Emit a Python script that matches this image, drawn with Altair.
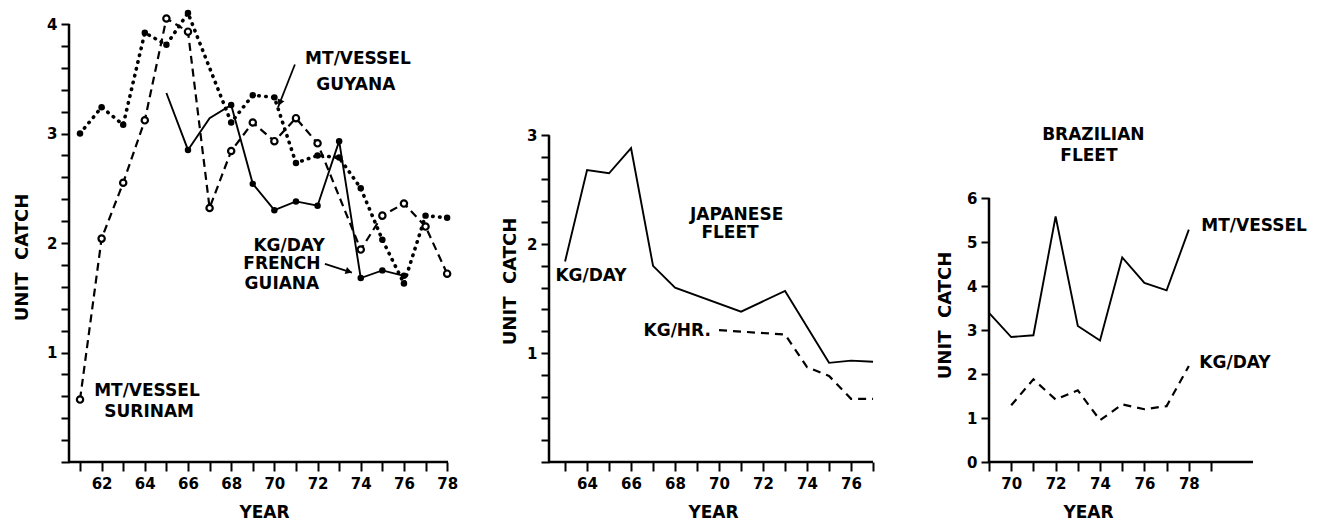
import altair as alt
import pandas as pd

FONT = "DejaVu Sans"

# ---------------- data ----------------
# Left panel: Guianas
guyana_years = [61, 62, 63, 64, 65, 66, 68, 69, 70, 71, 72, 73, 74, 75, 76, 77, 78]
guyana_vals = [3.00, 3.24, 3.08, 3.92, 3.81, 4.10, 3.10, 3.35, 3.33, 2.73, 2.80, 2.78, 2.50, 2.03, 1.63, 2.25, 2.23]

surinam_years = [61, 62, 63, 64, 65, 66, 67, 68, 69, 70, 71, 72, 74, 75, 76, 77, 78]
surinam_vals = [0.57, 2.04, 2.55, 3.12, 4.05, 3.93, 2.32, 2.84, 3.10, 2.93, 3.14, 2.91, 1.94, 2.25, 2.36, 2.15, 1.72]

fguiana_years = [65, 66, 67, 68, 69, 70, 71, 72, 73, 74, 75, 76]
fguiana_vals = [3.37, 2.85, 3.14, 3.26, 2.54, 2.30, 2.38, 2.34, 2.93, 1.68, 1.75, 1.70]
fguiana_marked = [False, True, False, True, True, True, True, True, True, True, True, True]

# Middle panel: Japanese fleet
jp_day_years = [63, 64, 65, 66, 67, 68, 71, 73, 75, 76, 77]
jp_day_vals = [1.84, 2.68, 2.65, 2.88, 1.80, 1.60, 1.38, 1.57, 0.91, 0.93, 0.92]
jp_hr_years = [70, 73, 74, 75, 76, 77]
jp_hr_vals = [1.21, 1.17, 0.87, 0.79, 0.58, 0.58]

# Right panel: Brazilian fleet
br_mt_years = [69, 70, 71, 72, 73, 74, 75, 76, 77, 78]
br_mt_vals = [3.39, 2.84, 2.88, 5.58, 3.09, 2.76, 4.65, 4.07, 3.90, 5.28]
br_kg_years = [70, 71, 72, 73, 74, 75, 76, 77, 78]
br_kg_vals = [1.29, 1.88, 1.42, 1.63, 0.95, 1.31, 1.20, 1.27, 2.18]

# tick values
left_x_ticks = [61, 62, 63, 64, 65, 66, 67, 68, 69, 70, 71, 72, 73, 74, 75, 76, 77, 78]
left_y_ticks = [0, 0.2, 0.4, 0.6, 0.8, 1, 1.2, 1.4, 1.6, 1.8, 2, 2.2, 2.4, 2.6, 2.8, 3, 3.2, 3.4, 3.6, 3.8, 4]
mid_x_ticks = [63, 64, 65, 66, 67, 68, 69, 70, 71, 72, 73, 74, 75, 76, 77]
mid_y_ticks = [0, 0.2, 0.4, 0.6, 0.8, 1, 1.2, 1.4, 1.6, 1.8, 2, 2.2, 2.4, 2.6, 2.8, 3]
right_x_ticks = [69, 70, 71, 72, 73, 74, 75, 76, 77, 78, 79]
right_y_ticks = [0, 1, 2, 3, 4, 5, 6]

# annotation texts (positions in data units)
left_text = ["MT/VESSEL", "GUYANA", "KG/DAY", "FRENCH", "GUIANA", "MT/VESSEL", "SURINAM"]
left_text_year = [73.87, 73.77, 70.68, 70.35, 70.35, 64.10, 64.20]
left_text_val = [3.68, 3.44, 1.97, 1.81, 1.63, 0.65, 0.46]

mid_text = ["KG/DAY", "JAPANESE", "FLEET", "KG/HR."]
mid_text_year = [64.18, 70.80, 70.50, 68.10]
mid_text_val = [1.71, 2.27, 2.10, 1.20]

right_text = ["BRAZILIAN", "FLEET", "MT/VESSEL", "KG/DAY"]
right_text_year = [73.70, 73.50, 80.94, 80.08]
right_text_val = [7.43, 6.95, 5.36, 2.25]

# arrows (left panel): start -> tip
arrow_year = [70.95, 72.34]
arrow_val = [3.63, 1.81]
arrow_year2 = [70.17, 73.59]
arrow_val2 = [3.24, 1.73]
arrow_head_year = [70.25, 73.45]
arrow_head_val = [3.28, 1.74]


def df(years, vals):
    return pd.DataFrame({"year": years, "val": vals})


def make_panel(xdom, ydom, width, xticks, yticks, ylab_min, ytitle_x, ytitle_y, xtitle_x, axis_x_end, axis_y_end, layers):
    xs = alt.Scale(domain=xdom, nice=False, zero=False)
    ys = alt.Scale(domain=ydom, nice=False, zero=False)
    xa = alt.Axis(values=xticks, domain=False, grid=False, tickSize=9, tickWidth=2, tickColor="black",
                  labelExpr="datum.value % 2 == 0 ? format(datum.value, 'd') : ''",
                  labelFont=FONT, labelFontWeight="bold", labelFontSize=15, labelColor="black",
                  labelPadding=5, labelFlush=False, labelOverlap=False,
                  title="YEAR", titleFont=FONT, titleFontWeight="bold", titleFontSize=17, titleColor="black",
                  titleX=xtitle_x, titleY=50, titleAlign="center", titleBaseline="middle")
    ya = alt.Axis(values=yticks, domain=False, grid=False, tickSize=8, tickWidth=2, tickColor="black",
                  labelExpr=f"datum.value >= {ylab_min} && datum.value % 1 == 0 ? format(datum.value, 'd') : ''",
                  labelFont=FONT, labelFontWeight="bold", labelFontSize=15, labelColor="black",
                  labelPadding=4, labelFlush=False, labelOverlap=False,
                  title="UNIT\u00a0\u00a0CATCH", titleFont=FONT, titleFontWeight="bold", titleFontSize=18,
                  titleColor="black", titleAngle=270, titleX=ytitle_x, titleY=ytitle_y,
                  titleAlign="center", titleBaseline="middle")
    X = alt.X("year:Q", scale=xs, axis=xa)
    Y = alt.Y("val:Q", scale=ys, axis=ya)

    axes_df = pd.DataFrame({"year": [xdom[0], xdom[0]], "val": [0, 0],
                            "year2": [xdom[0], axis_x_end], "val2": [axis_y_end, 0]})
    axis_lines = alt.Chart(axes_df).mark_rule(color="black", strokeWidth=2.5).encode(
        x=X, y=Y, x2="year2:Q", y2="val2:Q")

    built = [axis_lines]
    for kind, data, opts in layers:
        if kind == "line":
            built.append(alt.Chart(data).mark_line(color="black", **opts).encode(x=X, y=Y))
        elif kind == "point":
            built.append(alt.Chart(data).mark_point(**opts).encode(x=X, y=Y))
        elif kind == "text":
            built.append(alt.Chart(data).mark_text(font=FONT, fontWeight="bold", fontSize=17, color="black",
                                                   align="center", baseline="middle").encode(x=X, y=Y, text="label:N"))
        elif kind == "rule":
            built.append(alt.Chart(data).mark_rule(color="black", strokeWidth=1.8).encode(
                x=X, y=Y, x2="year2:Q", y2="val2:Q"))
    return alt.layer(*built).properties(width=width, height=438)


dotted = dict(strokeDash=[0.5, 6.5], strokeCap="round", strokeWidth=3.6)
dashed = dict(strokeDash=[8, 5], strokeWidth=2.2)
solid = dict(strokeWidth=1.9)
filled_dot = dict(shape="circle", filled=True, color="black", size=42, opacity=1)
open_dot = dict(shape="circle", filled=True, fill="white", stroke="black", strokeWidth=2.2, size=40, opacity=1)

fg_df = df(fguiana_years, fguiana_vals)
fg_df["marked"] = fguiana_marked
fg_marked_df = fg_df[fg_df["marked"]][["year", "val"]]

left_text_df = pd.DataFrame({"year": left_text_year, "val": left_text_val, "label": left_text})
arrow_df = pd.DataFrame({"year": arrow_year, "val": arrow_val, "year2": arrow_year2, "val2": arrow_val2})
head1 = pd.DataFrame({"year": arrow_head_year[:1], "val": arrow_head_val[:1]})
head2 = pd.DataFrame({"year": arrow_head_year[1:], "val": arrow_head_val[1:]})

left = make_panel(
    [60.49, 78.04], [0, 4.0], 379, left_x_ticks, left_y_ticks, 1, -47, 233, 195, 78.04, 4.0,
    [
        ("line", df(guyana_years, guyana_vals), dotted),
        ("line", df(surinam_years, surinam_vals), dashed),
        ("line", fg_df[["year", "val"]], solid),
        ("point", df(guyana_years, guyana_vals), filled_dot),
        ("point", fg_marked_df, filled_dot),
        ("point", df(surinam_years, surinam_vals), open_dot),
        ("rule", arrow_df, {}),
        ("point", head1, dict(shape="triangle-up", filled=True, color="black", size=55, opacity=1, angle=202)),
        ("point", head2, dict(shape="triangle-up", filled=True, color="black", size=55, opacity=1, angle=108)),
        ("text", left_text_df, {}),
    ],
)

mid = make_panel(
    [62.27, 77.68], [0, 4.02], 339, mid_x_ticks, mid_y_ticks, 1, -39, 257, 164, 77.0, 3.0,
    [
        ("line", df(jp_day_years, jp_day_vals), solid),
        ("line", df(jp_hr_years, jp_hr_vals), dict(strokeDash=[8, 6], strokeWidth=2.2)),
        ("text", pd.DataFrame({"year": mid_text_year, "val": mid_text_val, "label": mid_text}), {}),
    ],
)

right = make_panel(
    [69.0, 80.89], [0, 9.955], 264, right_x_ticks, right_y_ticks, 0, -44, 291, 99, 80.89, 6.0,
    [
        ("line", df(br_mt_years, br_mt_vals), solid),
        ("line", df(br_kg_years, br_kg_vals), dict(strokeDash=[8, 6], strokeWidth=2.2)),
        ("text", pd.DataFrame({"year": right_text_year, "val": right_text_val, "label": right_text}), {}),
    ],
)

chart = (
    alt.hconcat(left, mid, right, spacing=101, bounds="flush")
    .properties(padding={"left": 5, "top": -3, "right": 5, "bottom": 0}, background="white")
    .configure_view(stroke=None)
)

chart.save("out.html", embed_options={"renderer": "svg", "actions": False})
